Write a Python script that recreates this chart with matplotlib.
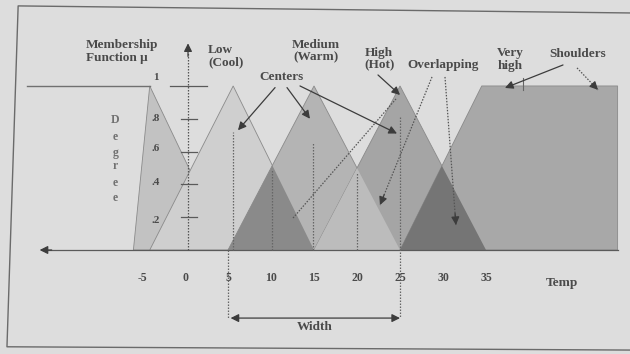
import matplotlib

matplotlib.use("Agg")
import matplotlib.pyplot as plt
import numpy as np

# membership function breakpoints (Temp, degree)
VERY_LOW_X = [-6.0, -4.1, 5.0]
VERY_LOW_Y = [0.0, 1.0, 0.0]
LOW_X = [-4.1, 5.6, 15.0]
LOW_Y = [0.0, 1.0, 0.0]
MEDIUM_X = [5.0, 15.0, 25.0]
MEDIUM_Y = [0.0, 1.0, 0.0]
HIGH_X = [15.0, 25.0, 35.0]
HIGH_Y = [0.0, 1.0, 0.0]
VERY_HIGH_X = [25.0, 34.5, 50.3, 50.3]
VERY_HIGH_Y = [0.0, 1.0, 1.0, 0.0]
SHOULDER_LEFT_X = -18.4

TEMP_TICKS = [-5, 0, 5, 10, 15, 20, 25, 30, 35]
DEGREE_TICKS = [0.2, 0.4, 0.6, 0.8, 1.0]
DEGREE_LABELS = [".2", ".4", ".6", ".8", "1"]
DEGREE_LABEL_Y = [0.18, 0.41, 0.62, 0.80, 1.05]
DEGREE_LETTERS = list("Degree")
DEGREE_LETTER_Y = [0.79, 0.69, 0.59, 0.51, 0.41, 0.32]

CENTER_LINES = [(5.6, 0.72), (14.9, 0.66), (10.1, 0.49), (20.0, 0.47)]
WIDTH_RANGE = (5.0, 25.0)
WIDTH_Y = -0.415

BG = "#dddddd"
TXT = "#4a4a4a"
LINE = "#3c3c3c"
FONT = ["Liberation Serif", "DejaVu Serif"]


def mu(xp, fp, grid):
    return np.interp(grid, xp, fp, left=0.0, right=0.0)


def label(ax, x, y, s, **kw):
    kw.setdefault("ha", "center")
    kw.setdefault("va", "center")
    kw.setdefault("fontsize", 9.5)
    kw.setdefault("color", TXT)
    ax.text(x, y, s, family=FONT, fontweight="bold", linespacing=1.05, **kw)


def arrow(ax, start, end, dotted=False):
    if dotted:
        ax.plot([start[0], end[0]], [start[1], end[1]], ls=(0, (1.2, 1.2)),
                color="#555555", lw=0.9)
        back = (end[0] - (end[0] - start[0]) * 0.08, end[1] - (end[1] - start[1]) * 0.08)
        start = back
    ax.annotate("", xy=end, xytext=start,
                arrowprops=dict(arrowstyle="-|>", color=LINE, lw=0.9,
                                mutation_scale=12, shrinkA=0, shrinkB=0))


def make_plot():
    fig = plt.figure(figsize=(6.3, 3.54), dpi=100, facecolor=BG)
    ax = fig.add_axes([0, 0, 1, 1])
    ax.set_facecolor(BG)
    ax.set_xlim(-21.51, 51.74)
    ax.set_ylim(-0.634, 1.524)
    ax.axis("off")

    grid = np.linspace(-10, 52, 3000)
    low = mu(LOW_X, LOW_Y, grid)
    med = mu(MEDIUM_X, MEDIUM_Y, grid)
    high = mu(HIGH_X, HIGH_Y, grid)
    vhigh = np.interp(grid, VERY_HIGH_X[:3], VERY_HIGH_Y[:3], left=0.0, right=1.0)
    vhigh[grid > VERY_HIGH_X[-1]] = 0.0

    edge = dict(edgecolor="#8a8a8a", lw=0.6)
    ax.fill(VERY_LOW_X, VERY_LOW_Y, facecolor="#c2c2c2", **edge)
    ax.fill(LOW_X, LOW_Y, facecolor="#cfcfcf", **edge)
    ax.fill(MEDIUM_X, MEDIUM_Y, facecolor="#b4b4b4", **edge)
    ax.fill(HIGH_X, HIGH_Y, facecolor="#a5a5a5", **edge)
    ax.fill_between(grid, 0, np.minimum(med, high), where=np.minimum(med, high) > 0,
                    facecolor="#bcbcbc", lw=0)
    ax.fill(VERY_HIGH_X, VERY_HIGH_Y, facecolor="#a8a8a8", **edge)
    ax.fill_between(grid, 0, np.minimum(low, med), where=np.minimum(low, med) > 0,
                    facecolor="#8a8a8a", lw=0)
    ax.fill_between(grid, 0, np.minimum(high, vhigh), where=np.minimum(high, vhigh) > 0,
                    facecolor="#757575", lw=0)

    # left shoulder top
    ax.plot([SHOULDER_LEFT_X, VERY_LOW_X[1]], [1.0, 1.0], color="#707070", lw=1.0)

    # temp axis
    ax.plot([-16.6, VERY_HIGH_X[-1]], [0, 0], color="#5a5a5a", lw=0.9)
    ax.annotate("", xy=(-16.9, 0), xytext=(-15.5, 0),
                arrowprops=dict(arrowstyle="-|>", color=LINE, lw=0.9,
                                mutation_scale=12, shrinkA=0, shrinkB=0))
    for t in TEMP_TICKS:
        label(ax, t, -0.17, str(t), fontsize=8.5)
    label(ax, 43.8, -0.2, "Temp")

    # degree axis
    ax.plot([0.35, 0.35], [0, 1.2], ls=(0, (1.2, 1.2)), color="#555555", lw=0.9)
    ax.annotate("", xy=(0.35, 1.26), xytext=(0.35, 1.18),
                arrowprops=dict(arrowstyle="-|>", color=LINE, lw=0.9,
                                mutation_scale=12, shrinkA=0, shrinkB=0))
    for d, s, ly in zip(DEGREE_TICKS, DEGREE_LABELS, DEGREE_LABEL_Y):
        if d == 1.0:
            ax.plot([-1.74, 2.56], [d, d], color="#5a5a5a", lw=0.9)
        else:
            ax.plot([-0.5, 1.4], [d, d], color="#5a5a5a", lw=0.9)
        label(ax, -3.37, ly, s, fontsize=8)
    for ch, ly in zip(DEGREE_LETTERS, DEGREE_LETTER_Y):
        label(ax, -8.1, ly, ch, fontsize=8.5, color="#707070")

    # centre / width guide lines
    for t, top in CENTER_LINES:
        ax.plot([t, t], [0, top], ls=(0, (1.2, 1.2)), color="#666666", lw=0.9)
    ax.plot([WIDTH_RANGE[0]] * 2, [0, WIDTH_Y], ls=(0, (1.2, 1.2)), color="#666666", lw=0.9)
    ax.plot([WIDTH_RANGE[1]] * 2, [0.81, WIDTH_Y], ls=(0, (1.2, 1.2)), color="#666666", lw=0.9)
    ax.annotate("", xy=(WIDTH_RANGE[0] + 0.3, WIDTH_Y), xytext=(WIDTH_RANGE[1], WIDTH_Y),
                arrowprops=dict(arrowstyle="<|-|>", color=LINE, lw=0.9,
                                mutation_scale=12, shrinkA=0, shrinkB=0))
    label(ax, 15.1, -0.47, "Width")

    # annotations
    label(ax, -11.5, 1.21, "Membership\nFunction \u00b5", ha="left")
    label(ax, 2.67, 1.18, "Low\n(Cool)", ha="left")
    label(ax, 15.2, 1.21, "Medium\n(Warm)")
    label(ax, 11.2, 1.055, "Centers")
    label(ax, 20.9, 1.165, "High\n(Hot)", ha="left")
    label(ax, 30.0, 1.128, "Overlapping")
    label(ax, 36.3, 1.16, "Very\nhigh", ha="left")
    label(ax, 45.6, 1.195, "Shoulders")

    arrow(ax, (10.47, 0.99), (6.16, 0.73))
    arrow(ax, (11.86, 0.99), (14.53, 0.80))
    arrow(ax, (13.37, 1.0), (24.65, 0.71))
    arrow(ax, (22.44, 1.067), (25.0, 0.945))
    arrow(ax, (28.72, 1.055), (22.67, 0.274), dotted=True)
    arrow(ax, (30.23, 1.055), (31.5, 0.152), dotted=True)
    ax.plot([12.56, 24.53], [0.195, 0.921], ls=(0, (1.2, 1.2)), color="#555555", lw=0.9)
    arrow(ax, (43.95, 1.128), (37.2, 0.988))
    arrow(ax, (45.58, 1.11), (48.02, 0.976), dotted=True)
    ax.plot([39.3, 39.3], [0.976, 1.049], color="#666666", lw=0.8)

    # photo frame
    ax.plot([51.74, -19.4, -20.7, 51.74], [1.445, 1.488, -0.59, -0.61],
            color="#6a6a6a", lw=1.0)

    fig.savefig("out.png", dpi=100, facecolor=BG)
    plt.close(fig)


def main():
    make_plot()


if __name__ == "__main__":
    main()
